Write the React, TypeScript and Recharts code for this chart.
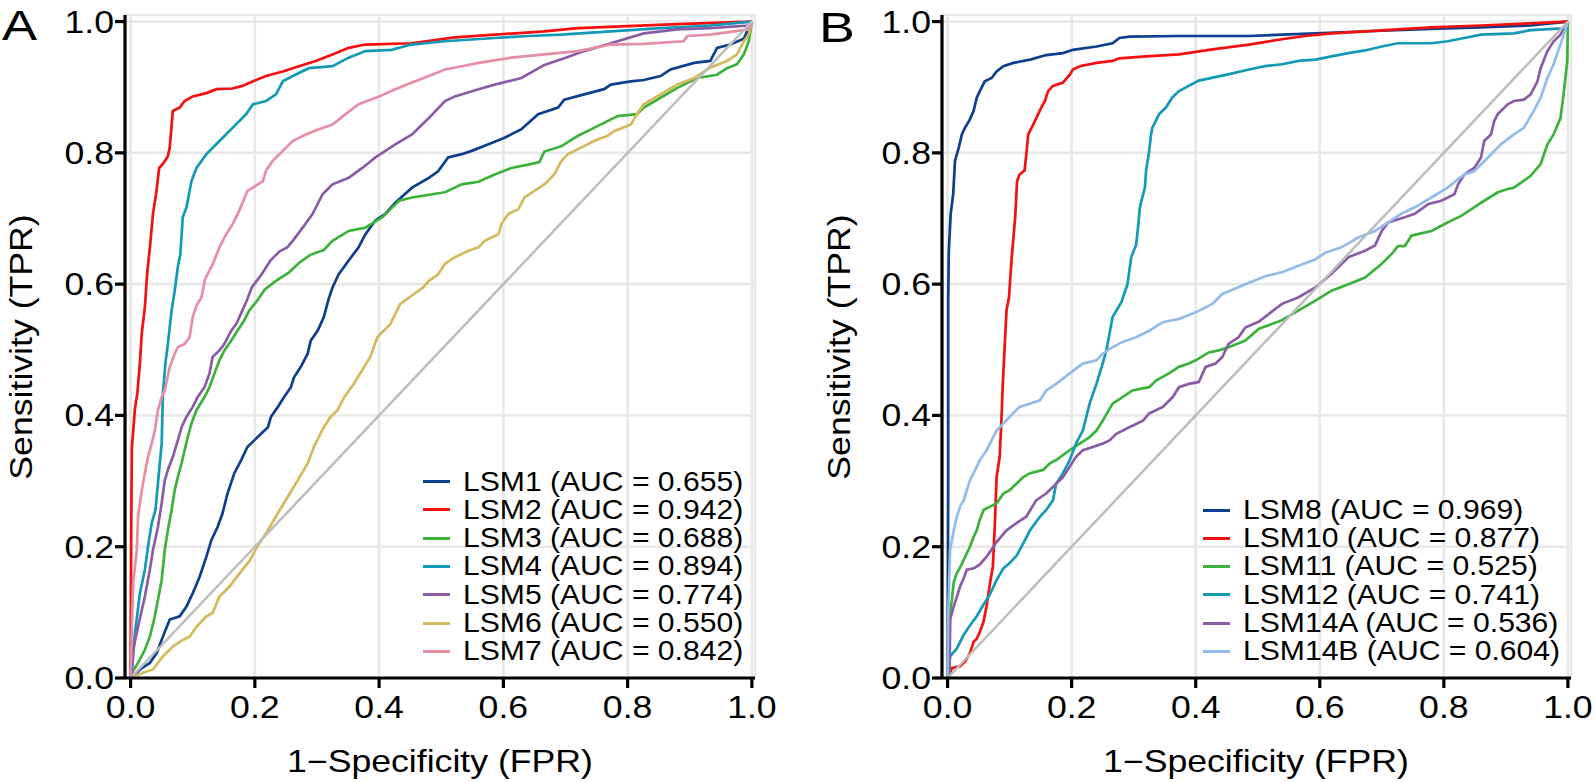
import React from "react";
import { LineChart, Line, XAxis, YAxis, CartesianGrid, Legend } from "recharts";

type Pt = [number, number];

// ---- Panel A curves: [1-specificity, sensitivity] ----
const lsm1: Pt[] = [[0,0],[0.004,0.002],[0.015,0.013],[0.031,0.023],[0.042,0.038],[0.052,0.063],[0.063,0.089],[0.079,0.094],[0.09,0.109],[0.1,0.129],[0.111,0.154],[0.122,0.185],[0.13,0.21],[0.14,0.23],[0.148,0.251],[0.156,0.281],[0.167,0.312],[0.178,0.332],[0.188,0.352],[0.199,0.362],[0.21,0.372],[0.221,0.382],[0.226,0.398],[0.237,0.413],[0.247,0.428],[0.258,0.443],[0.263,0.458],[0.274,0.474],[0.285,0.494],[0.29,0.514],[0.301,0.529],[0.311,0.55],[0.318,0.575],[0.325,0.595],[0.335,0.615],[0.351,0.636],[0.367,0.656],[0.378,0.676],[0.394,0.697],[0.41,0.707],[0.426,0.724],[0.453,0.747],[0.48,0.762],[0.495,0.772],[0.511,0.793],[0.533,0.798],[0.549,0.803],[0.576,0.813],[0.602,0.823],[0.629,0.836],[0.656,0.859],[0.688,0.869],[0.698,0.881],[0.73,0.889],[0.762,0.897],[0.773,0.904],[0.805,0.909],[0.826,0.911],[0.853,0.917],[0.869,0.927],[0.907,0.937],[0.933,0.94],[0.944,0.96],[0.965,0.965],[0.987,0.974],[0.995,0.99],[1,1]];
const lsm2: Pt[] = [[0,0],[0.001,0.22],[0.002,0.35],[0.007,0.41],[0.011,0.435],[0.015,0.48],[0.018,0.525],[0.023,0.565],[0.027,0.62],[0.031,0.655],[0.036,0.707],[0.041,0.737],[0.046,0.777],[0.052,0.783],[0.06,0.795],[0.063,0.808],[0.068,0.864],[0.079,0.869],[0.087,0.879],[0.1,0.886],[0.122,0.891],[0.138,0.897],[0.164,0.898],[0.18,0.902],[0.197,0.909],[0.218,0.917],[0.245,0.924],[0.271,0.932],[0.298,0.94],[0.325,0.95],[0.351,0.96],[0.378,0.965],[0.452,0.967],[0.522,0.976],[0.586,0.98],[0.666,0.985],[0.72,0.99],[0.8,0.993],[0.88,0.996],[1,1]];
const lsm3: Pt[] = [[0,0],[0.002,0.008],[0.012,0.023],[0.023,0.043],[0.031,0.063],[0.039,0.094],[0.044,0.119],[0.05,0.149],[0.055,0.195],[0.06,0.225],[0.066,0.256],[0.071,0.286],[0.076,0.306],[0.082,0.327],[0.087,0.347],[0.092,0.367],[0.098,0.388],[0.106,0.408],[0.119,0.428],[0.127,0.443],[0.135,0.464],[0.143,0.484],[0.151,0.499],[0.162,0.514],[0.172,0.529],[0.183,0.545],[0.191,0.56],[0.204,0.575],[0.216,0.592],[0.234,0.605],[0.255,0.618],[0.272,0.633],[0.29,0.645],[0.311,0.652],[0.325,0.666],[0.351,0.681],[0.378,0.686],[0.405,0.702],[0.416,0.712],[0.432,0.727],[0.453,0.732],[0.506,0.74],[0.533,0.752],[0.56,0.756],[0.586,0.767],[0.613,0.777],[0.64,0.782],[0.658,0.786],[0.666,0.802],[0.693,0.81],[0.72,0.826],[0.746,0.838],[0.784,0.856],[0.815,0.859],[0.826,0.869],[0.853,0.884],[0.88,0.899],[0.912,0.914],[0.944,0.919],[0.96,0.929],[0.976,0.935],[0.987,0.95],[0.995,0.97],[1,1]];
const lsm4: Pt[] = [[0,0],[0.002,0.008],[0.007,0.068],[0.015,0.129],[0.023,0.165],[0.028,0.2],[0.034,0.236],[0.04,0.256],[0.044,0.296],[0.05,0.357],[0.052,0.433],[0.056,0.479],[0.06,0.509],[0.066,0.56],[0.071,0.59],[0.076,0.626],[0.08,0.645],[0.084,0.702],[0.09,0.717],[0.098,0.757],[0.106,0.777],[0.122,0.798],[0.143,0.818],[0.164,0.838],[0.186,0.859],[0.197,0.874],[0.218,0.879],[0.234,0.889],[0.245,0.909],[0.261,0.917],[0.287,0.929],[0.325,0.932],[0.351,0.945],[0.378,0.955],[0.42,0.957],[0.452,0.965],[0.506,0.97],[0.586,0.975],[0.64,0.978],[0.693,0.98],[0.773,0.985],[0.853,0.99],[0.933,0.994],[1,1]];
const lsm5: Pt[] = [[0,0],[0.002,0.008],[0.004,0.043],[0.012,0.078],[0.023,0.124],[0.031,0.165],[0.036,0.195],[0.044,0.23],[0.05,0.266],[0.055,0.301],[0.06,0.317],[0.068,0.337],[0.076,0.362],[0.082,0.382],[0.09,0.398],[0.1,0.413],[0.108,0.428],[0.119,0.443],[0.127,0.464],[0.132,0.489],[0.143,0.499],[0.151,0.509],[0.162,0.529],[0.17,0.539],[0.18,0.56],[0.187,0.575],[0.195,0.595],[0.211,0.615],[0.225,0.636],[0.24,0.65],[0.252,0.656],[0.261,0.666],[0.277,0.686],[0.293,0.707],[0.309,0.737],[0.325,0.752],[0.351,0.762],[0.373,0.777],[0.394,0.793],[0.426,0.813],[0.453,0.828],[0.48,0.853],[0.506,0.879],[0.522,0.886],[0.56,0.897],[0.586,0.904],[0.629,0.914],[0.666,0.934],[0.698,0.944],[0.73,0.955],[0.773,0.967],[0.826,0.982],[0.88,0.988],[0.933,0.99],[0.995,0.994],[1,1]];
const lsm6: Pt[] = [[0,0],[0.004,0.002],[0.02,0.008],[0.036,0.013],[0.052,0.033],[0.068,0.048],[0.084,0.058],[0.095,0.063],[0.106,0.078],[0.122,0.094],[0.132,0.099],[0.143,0.124],[0.159,0.139],[0.175,0.159],[0.191,0.178],[0.202,0.197],[0.214,0.215],[0.221,0.225],[0.237,0.251],[0.253,0.276],[0.269,0.301],[0.285,0.327],[0.295,0.352],[0.311,0.382],[0.322,0.398],[0.333,0.408],[0.344,0.428],[0.359,0.448],[0.376,0.474],[0.386,0.489],[0.397,0.519],[0.418,0.539],[0.434,0.57],[0.456,0.585],[0.471,0.595],[0.48,0.605],[0.495,0.615],[0.506,0.631],[0.522,0.641],[0.544,0.651],[0.56,0.656],[0.57,0.666],[0.592,0.676],[0.597,0.692],[0.608,0.707],[0.624,0.714],[0.634,0.732],[0.65,0.742],[0.666,0.752],[0.682,0.767],[0.693,0.787],[0.704,0.798],[0.725,0.808],[0.746,0.818],[0.768,0.826],[0.778,0.833],[0.805,0.843],[0.815,0.859],[0.826,0.874],[0.853,0.889],[0.88,0.904],[0.907,0.914],[0.933,0.93],[0.96,0.94],[0.976,0.95],[0.987,0.97],[0.995,0.98],[1,1]];
const lsm7: Pt[] = [[0,0],[0.004,0.144],[0.01,0.195],[0.012,0.246],[0.018,0.286],[0.023,0.312],[0.028,0.337],[0.034,0.357],[0.039,0.377],[0.044,0.408],[0.05,0.428],[0.055,0.438],[0.063,0.474],[0.071,0.494],[0.076,0.504],[0.087,0.509],[0.095,0.519],[0.1,0.55],[0.106,0.567],[0.114,0.58],[0.12,0.608],[0.132,0.63],[0.143,0.656],[0.154,0.676],[0.164,0.691],[0.175,0.712],[0.188,0.742],[0.197,0.747],[0.213,0.757],[0.218,0.773],[0.229,0.788],[0.245,0.803],[0.261,0.818],[0.282,0.828],[0.303,0.836],[0.325,0.843],[0.346,0.859],[0.367,0.874],[0.4,0.886],[0.426,0.897],[0.453,0.907],[0.48,0.917],[0.506,0.927],[0.533,0.932],[0.56,0.937],[0.613,0.945],[0.666,0.95],[0.72,0.955],[0.773,0.965],[0.826,0.966],[0.89,0.97],[0.896,0.978],[0.933,0.98],[0.995,0.988],[1,1]];

// ---- Panel B curves ----
const lsm8: Pt[] = [[0,0],[0.001,0.3],[0.001,0.575],[0.002,0.651],[0.005,0.707],[0.009,0.737],[0.012,0.788],[0.018,0.808],[0.023,0.828],[0.028,0.838],[0.036,0.851],[0.042,0.864],[0.047,0.884],[0.052,0.894],[0.06,0.909],[0.071,0.914],[0.079,0.924],[0.09,0.932],[0.106,0.937],[0.133,0.942],[0.159,0.949],[0.186,0.952],[0.202,0.957],[0.24,0.962],[0.266,0.967],[0.277,0.975],[0.293,0.977],[0.373,0.978],[0.486,0.978],[0.539,0.98],[0.593,0.982],[0.7,0.986],[0.78,0.989],[0.86,0.991],[0.94,0.994],[1,1]];
const lsm10: Pt[] = [[0,0],[0.002,0.002],[0.007,0.015],[0.02,0.018],[0.028,0.025],[0.036,0.038],[0.042,0.055],[0.047,0.06],[0.052,0.07],[0.058,0.086],[0.063,0.11],[0.068,0.142],[0.073,0.17],[0.076,0.23],[0.079,0.306],[0.084,0.337],[0.087,0.398],[0.089,0.448],[0.095,0.56],[0.099,0.58],[0.103,0.636],[0.109,0.702],[0.112,0.757],[0.116,0.767],[0.124,0.773],[0.127,0.798],[0.13,0.828],[0.138,0.843],[0.143,0.853],[0.151,0.869],[0.157,0.879],[0.162,0.894],[0.17,0.902],[0.186,0.907],[0.197,0.919],[0.202,0.927],[0.213,0.932],[0.24,0.937],[0.266,0.94],[0.277,0.944],[0.32,0.947],[0.373,0.95],[0.43,0.958],[0.486,0.965],[0.539,0.973],[0.576,0.978],[0.619,0.982],[0.673,0.985],[0.726,0.988],[0.78,0.991],[0.86,0.994],[0.913,0.996],[1,1]];
const lsm11: Pt[] = [[0,0],[0.003,0.002],[0.004,0.1],[0.007,0.119],[0.01,0.146],[0.015,0.16],[0.02,0.168],[0.026,0.18],[0.031,0.19],[0.036,0.2],[0.042,0.215],[0.047,0.225],[0.052,0.241],[0.058,0.256],[0.068,0.261],[0.079,0.266],[0.09,0.281],[0.1,0.286],[0.111,0.296],[0.122,0.306],[0.133,0.312],[0.154,0.317],[0.165,0.327],[0.175,0.332],[0.197,0.347],[0.213,0.357],[0.229,0.367],[0.24,0.377],[0.25,0.392],[0.266,0.418],[0.282,0.428],[0.298,0.438],[0.325,0.443],[0.336,0.453],[0.357,0.464],[0.373,0.474],[0.389,0.479],[0.4,0.484],[0.421,0.496],[0.437,0.499],[0.453,0.504],[0.48,0.514],[0.502,0.532],[0.539,0.545],[0.566,0.56],[0.593,0.575],[0.619,0.59],[0.646,0.6],[0.673,0.61],[0.7,0.631],[0.716,0.646],[0.726,0.658],[0.737,0.658],[0.748,0.674],[0.78,0.681],[0.806,0.694],[0.828,0.704],[0.849,0.717],[0.86,0.724],[0.887,0.74],[0.903,0.745],[0.913,0.747],[0.94,0.765],[0.956,0.783],[0.967,0.813],[0.977,0.828],[0.988,0.853],[0.993,0.889],[0.999,0.94],[1,1]];
const lsm12: Pt[] = [[0,0],[0.002,0.008],[0.004,0.033],[0.015,0.045],[0.026,0.066],[0.036,0.08],[0.047,0.094],[0.058,0.112],[0.068,0.127],[0.079,0.149],[0.09,0.167],[0.1,0.175],[0.111,0.186],[0.122,0.205],[0.133,0.225],[0.149,0.246],[0.159,0.256],[0.17,0.271],[0.175,0.296],[0.186,0.312],[0.197,0.332],[0.207,0.357],[0.218,0.377],[0.229,0.418],[0.24,0.448],[0.25,0.479],[0.256,0.499],[0.266,0.55],[0.28,0.572],[0.29,0.6],[0.296,0.641],[0.304,0.66],[0.307,0.686],[0.31,0.717],[0.318,0.747],[0.32,0.773],[0.325,0.803],[0.328,0.828],[0.33,0.838],[0.341,0.859],[0.352,0.869],[0.362,0.884],[0.373,0.894],[0.405,0.91],[0.454,0.92],[0.486,0.927],[0.512,0.932],[0.539,0.935],[0.566,0.94],[0.593,0.942],[0.619,0.947],[0.646,0.952],[0.673,0.956],[0.7,0.962],[0.726,0.967],[0.78,0.967],[0.806,0.97],[0.833,0.975],[0.86,0.98],[0.913,0.982],[0.94,0.987],[1,0.99]];
const lsm14a: Pt[] = [[0,0],[0.003,0.008],[0.004,0.089],[0.01,0.109],[0.015,0.124],[0.02,0.139],[0.026,0.152],[0.031,0.165],[0.042,0.167],[0.052,0.173],[0.063,0.185],[0.074,0.2],[0.079,0.207],[0.095,0.225],[0.111,0.236],[0.127,0.246],[0.143,0.271],[0.159,0.281],[0.175,0.296],[0.186,0.306],[0.197,0.322],[0.207,0.337],[0.218,0.347],[0.234,0.352],[0.25,0.357],[0.261,0.362],[0.272,0.372],[0.293,0.382],[0.315,0.392],[0.325,0.403],[0.347,0.413],[0.363,0.428],[0.373,0.443],[0.389,0.448],[0.405,0.451],[0.416,0.474],[0.432,0.479],[0.443,0.489],[0.453,0.509],[0.469,0.519],[0.48,0.534],[0.502,0.543],[0.539,0.57],[0.566,0.58],[0.593,0.595],[0.619,0.616],[0.646,0.641],[0.673,0.651],[0.689,0.659],[0.7,0.681],[0.71,0.694],[0.737,0.702],[0.753,0.707],[0.775,0.722],[0.796,0.727],[0.817,0.737],[0.823,0.752],[0.833,0.767],[0.849,0.777],[0.86,0.793],[0.865,0.818],[0.876,0.828],[0.881,0.848],[0.887,0.859],[0.903,0.874],[0.913,0.879],[0.929,0.881],[0.94,0.889],[0.951,0.909],[0.956,0.929],[0.967,0.955],[0.977,0.97],[0.988,0.98],[1,1]];
const lsm14b: Pt[] = [[0,0],[0.001,0.094],[0.004,0.195],[0.01,0.225],[0.015,0.246],[0.02,0.261],[0.026,0.271],[0.031,0.286],[0.036,0.301],[0.042,0.312],[0.052,0.332],[0.063,0.347],[0.071,0.362],[0.079,0.377],[0.09,0.388],[0.1,0.398],[0.116,0.413],[0.133,0.418],[0.149,0.423],[0.159,0.438],[0.175,0.448],[0.197,0.464],[0.218,0.479],[0.24,0.484],[0.25,0.494],[0.266,0.504],[0.282,0.512],[0.304,0.519],[0.325,0.529],[0.347,0.542],[0.373,0.547],[0.4,0.557],[0.427,0.57],[0.443,0.585],[0.48,0.6],[0.512,0.612],[0.539,0.618],[0.566,0.628],[0.593,0.638],[0.609,0.648],[0.635,0.656],[0.662,0.671],[0.689,0.681],[0.71,0.694],[0.731,0.707],[0.753,0.717],[0.78,0.732],[0.806,0.747],[0.833,0.767],[0.849,0.772],[0.871,0.793],[0.892,0.813],[0.913,0.828],[0.929,0.838],[0.945,0.864],[0.956,0.884],[0.967,0.914],[0.977,0.935],[0.988,0.965],[1,1]];

const diagonal: Pt[] = [[0, 0], [1, 1]];

const namesA = ["LSM1", "LSM2", "LSM3", "LSM4", "LSM5", "LSM6", "LSM7"];
const aucA = ["0.655", "0.942", "0.688", "0.894", "0.774", "0.550", "0.842"];
const colorsA = ["#0c3f8e", "#f50f0f", "#3bb33b", "#129ab7", "#8c5ba8", "#d4b95e", "#e58ea4"];
const curvesA = [lsm1, lsm2, lsm3, lsm4, lsm5, lsm6, lsm7];

const namesB = ["LSM8", "LSM10", "LSM11", "LSM12", "LSM14A", "LSM14B"];
const aucB = ["0.969", "0.877", "0.525", "0.741", "0.536", "0.604"];
const colorsB = ["#0c3f8e", "#f50f0f", "#3bb33b", "#129ab7", "#8c5ba8", "#91bceb"];
const curvesB = [lsm8, lsm10, lsm11, lsm12, lsm14a, lsm14b];

const majorTicks = [0, 0.2, 0.4, 0.6, 0.8, 1.0];
const minorTicks = [0.1, 0.3, 0.5, 0.7, 0.9];

const X_DOMAIN: [number, number] = [-0.009, 1.005];
const Y_DOMAIN: [number, number] = [0, 1.01];
const FONT = '"Liberation Sans", Arial, Helvetica, sans-serif';
const AXIS = { stroke: "#000", strokeWidth: 3.2 };
// the source figure's lettering is a little wider than Arial
const SX = 1.15;
const FS = 31;

const toRows = (pts: Pt[]) => pts.map(([x, y]) => ({ x, y }));

type Item = { name: string; auc: string; color: string; rows: { x: number; y: number }[] };

const buildItems = (names: string[], aucs: string[], colors: string[], curves: Pt[][]): Item[] =>
  names.map((name, i) => ({ name, auc: aucs[i], color: colors[i], rows: toRows(curves[i]) }));

const itemsA = buildItems(namesA, aucA, colorsA, curvesA);
const itemsB = buildItems(namesB, aucB, colorsB, curvesB);

const XTick = (p: any) => (
  <text transform={`translate(${p.x},${p.y}) scale(${SX},1)`} dy="0.71em" textAnchor="middle"
    fontSize={FS} fontFamily={FONT} fill="#000">
    {Number(p.payload.value).toFixed(1)}
  </text>
);

const YTick = (p: any) => (
  <text transform={`translate(${p.x},${p.y}) scale(${SX},1)`} dy="0.355em" textAnchor="end"
    fontSize={FS} fontFamily={FONT} fill="#000">
    {Number(p.payload.value).toFixed(1)}
  </text>
);

const legendContent = (items: Item[]) => () => (
  <div style={{ fontFamily: FONT, fontSize: 28, lineHeight: "28.3px", color: "#000" }}>
    {items.map((it) => (
      <div key={it.name} style={{ display: "flex", alignItems: "center", height: 28.3, whiteSpace: "nowrap" }}>
        <span style={{ display: "inline-block", width: 27, height: 3, background: it.color, marginRight: 13 }} />
        <span style={{ display: "inline-block", transform: "scaleX(1.075)", transformOrigin: "left center" }}>
          {`${it.name} (AUC = ${it.auc})`}
        </span>
      </div>
    ))}
  </div>
);

type PanelProps = {
  items: Item[];
  left: number;
  margin: { top: number; right: number; bottom: number; left: number };
  legendLeft: number;
  legendTop: number;
};

function RocPanel({ items, left, margin, legendLeft, legendTop }: PanelProps) {
  return (
    <div style={{ position: "absolute", left, top: 0 }}>
      <LineChart width={797} height={782} margin={margin}>
        {/* hidden helper axes carrying the minor grid ticks */}
        <XAxis xAxisId="top" orientation="top" type="number" domain={X_DOMAIN} ticks={minorTicks}
          allowDataOverflow height={0} tick={false} tickLine={false} axisLine={false} />
        <YAxis yAxisId="right" orientation="right" type="number" domain={Y_DOMAIN} ticks={minorTicks}
          allowDataOverflow width={0} tick={false} tickLine={false} axisLine={false} />
        <CartesianGrid xAxisId="top" yAxisId="right" stroke="#efefef" strokeWidth={1.5} />
        <CartesianGrid stroke="#e8e8e8" strokeWidth={2.6} />
        {items.map((it) => (
          <Line key={it.name} data={it.rows} dataKey="y" type="linear" stroke={it.color}
            strokeWidth={2.7} dot={false} activeDot={false} isAnimationActive={false} />
        ))}
        <Line data={toRows(diagonal)} dataKey="y" type="linear" stroke="#bdbdbd" strokeWidth={2.5}
          dot={false} activeDot={false} isAnimationActive={false} legendType="none" />
        <XAxis dataKey="x" type="number" domain={X_DOMAIN} ticks={majorTicks} allowDataOverflow
          height={60} tickSize={10} tickMargin={8} tick={<XTick />} axisLine={AXIS} tickLine={AXIS} />
        <YAxis type="number" domain={Y_DOMAIN} ticks={majorTicks} allowDataOverflow width={80}
          tickSize={10} tickMargin={1} tick={<YTick />} axisLine={AXIS} tickLine={AXIS} />
        {/* top and right edges of the panel frame */}
        <XAxis xAxisId="top2" orientation="top" type="number" domain={X_DOMAIN} allowDataOverflow
          height={0} tick={false} tickLine={false} axisLine={AXIS} />
        <YAxis yAxisId="right2" orientation="right" type="number" domain={Y_DOMAIN} allowDataOverflow
          width={0} tick={false} tickLine={false} axisLine={AXIS} />
        <Legend layout="horizontal" verticalAlign="middle" align="center"
          content={legendContent(items)}
          wrapperStyle={{ left: legendLeft, top: legendTop, width: "auto", height: "auto" }} />
      </LineChart>
    </div>
  );
}

export default function App() {
  return (
    <div style={{ position: "absolute", left: 0, top: 0, width: 1594, height: 782, background: "#fff" }}>
      <RocPanel items={itemsA} left={0}
        margin={{ top: 15, right: 42, bottom: 44, left: 45 }}
        legendLeft={423} legendTop={467.5} />
      <RocPanel items={itemsB} left={797}
        margin={{ top: 15, right: 23, bottom: 44, left: 65 }}
        legendLeft={406} legendTop={495.9} />
      <svg width={1594} height={782} style={{ position: "absolute", left: 0, top: 0, pointerEvents: "none" }}
        fontFamily={FONT} fill="#000">
        <text transform="translate(2,40) scale(1.25,1)" fontSize={42}>A</text>
        <text transform="translate(819,42) scale(1.25,1)" fontSize={43}>B</text>
        <text transform={`translate(440,771.5) scale(${SX},1)`} fontSize={FS} textAnchor="middle">1−Specificity (FPR)</text>
        <text transform={`translate(1256,771.5) scale(${SX},1)`} fontSize={FS} textAnchor="middle">1−Specificity (FPR)</text>
        <text transform={`translate(32,347) rotate(-90) scale(${SX},1)`} fontSize={FS} textAnchor="middle">Sensitivity (TPR)</text>
        <text transform={`translate(850,347) rotate(-90) scale(${SX},1)`} fontSize={FS} textAnchor="middle">Sensitivity (TPR)</text>
      </svg>
    </div>
  );
}
